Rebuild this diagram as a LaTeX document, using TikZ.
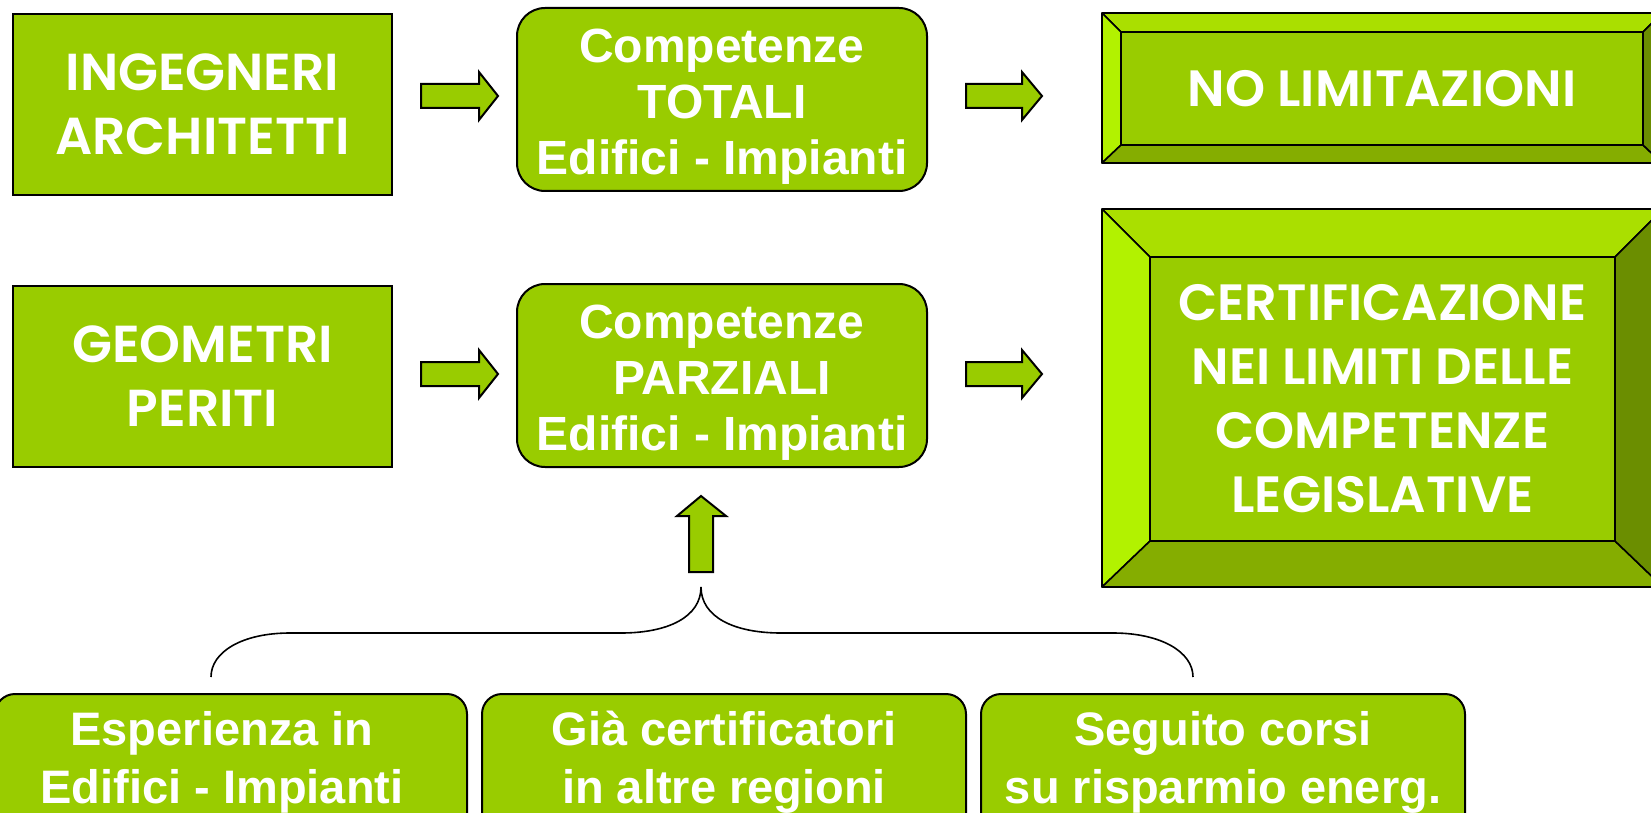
\documentclass[tikz,border=0pt]{standalone}
\usepackage{fontspec}
\setmainfont{Liberation Sans}
\newfontfamily\gothic{Poppins}[BoldFont={Poppins SemiBold}]
\definecolor{gface}{HTML}{99CC00}
\definecolor{gtop}{HTML}{AADF00}
\definecolor{gleft}{HTML}{B2F200}
\definecolor{gbot}{HTML}{85AD00}
\definecolor{gright}{HTML}{6B8E00}
\begin{document}
\begin{tikzpicture}[x=1pt,y=-1pt,
  sqbox/.style={draw=black,line width=2pt,fill=gface,text=white,align=center,inner sep=0pt,
    font=\gothic\bfseries\fontsize{52}{64}\selectfont},
  rbox/.style={draw=black,line width=2pt,fill=gface,rounded corners=28pt},
  rtext/.style={text=white,align=center,inner sep=0pt,font=\bfseries\fontsize{48}{56}\selectfont},
  bbox/.style={draw=black,line width=2pt,fill=gface,rounded corners=20pt},
  btext/.style={text=white,align=center,inner sep=0pt,font=\bfseries\fontsize{47}{58}\selectfont},
  bevface/.style={draw=black,line width=1.6pt,fill=gface,text=white,align=center,inner sep=0pt,
    font=\gothic\bfseries\fontsize{51}{64}\selectfont},
  bev/.style={draw=black,line width=1.6pt,line join=round},
  blockarrow/.style={draw=black,line width=2pt,fill=gface,line join=miter},
  brace/.style={draw=black,line width=1.6pt}]
\path[use as bounding box] (0,0) rectangle (1651,813);
\clip (0,0) rectangle (1651,813);
\fill[white] (0,0) rectangle (1651,813);

% left boxes
\node[sqbox,minimum width=379pt,minimum height=181pt] (ing) at (202.5,104.5) {INGEGNERI\\ARCHITETTI};
\node[sqbox,minimum width=379pt,minimum height=181pt] (geo) at (202.5,376.5) {GEOMETRI\\PERITI};

% competenze boxes
\node[rbox,minimum width=410pt,minimum height=183pt] (tot) at (722,99.5) {};
\node[rtext] (tottxt) at (722,107) {Competenze\\TOTALI\\Edifici - Impianti};
\node[rbox,minimum width=410pt,minimum height=183pt] (par) at (722,375.5) {};
\node[rtext] (partxt) at (722,383) {Competenze\\PARZIALI\\Edifici - Impianti};

% bevel box 1
\fill[gtop,bev] (1102,13) -- (1662,13) -- (1643,32) -- (1121,32) -- cycle;
\fill[gleft,bev] (1102,13) -- (1121,32) -- (1121,145) -- (1102,163) -- cycle;
\fill[gbot,bev] (1102,163) -- (1121,145) -- (1643,145) -- (1662,163) -- cycle;
\fill[gright,bev] (1662,13) -- (1643,32) -- (1643,145) -- (1662,163) -- cycle;
\node[bevface,minimum width=522pt,minimum height=113pt] (nolim) at (1382,88.5) {NO LIMITAZIONI};

% bevel box 2
\fill[gtop,bev] (1102,209) -- (1663,209) -- (1615,257) -- (1150,257) -- cycle;
\fill[gleft,bev] (1102,209) -- (1150,257) -- (1150,541) -- (1102,587) -- cycle;
\fill[gbot,bev] (1102,587) -- (1150,541) -- (1615,541) -- (1663,587) -- cycle;
\fill[gright,bev] (1663,209) -- (1615,257) -- (1615,541) -- (1663,587) -- cycle;
\node[bevface,minimum width=465pt,minimum height=284pt] (cert) at (1382.5,399) {CERTIFICAZIONE\\NEI LIMITI DELLE\\COMPETENZE\\LEGISLATIVE};

% block arrows
\draw[blockarrow] (421,84) -- (479,84) -- (479,72) -- (498,96) -- (479,120) -- (479,108) -- (421,108) -- cycle;
\draw[blockarrow] (966,84) -- (1022,84) -- (1022,72) -- (1042,96) -- (1022,120) -- (1022,108) -- (966,108) -- cycle;
\draw[blockarrow] (421,362) -- (479,362) -- (479,350) -- (498,374) -- (479,398) -- (479,386) -- (421,386) -- cycle;
\draw[blockarrow] (966,362) -- (1022,362) -- (1022,350) -- (1042,374) -- (1022,398) -- (1022,386) -- (966,386) -- cycle;
\draw[blockarrow] (689,572) -- (713,572) -- (713,516) -- (726,516) -- (701,496) -- (677,516) -- (689,516) -- cycle;

% brace
\coordinate (tip) at (701,587);
\coordinate (bl) at (211,677);
\coordinate (br) at (1193,677);
\draw[brace] (bl) .. controls (211,652) and (242,633) .. (290,633) -- (621,633)
  .. controls (668,633) and (701,617) .. (tip)
  .. controls (701,617) and (734,633) .. (781,633) -- (1113,633)
  .. controls (1161,633) and (1193,652) .. (br);

% bottom boxes
\draw[bbox] (-5,694) rectangle (467,840);
\draw[bbox] (482,694) rectangle (966,840);
\draw[bbox] (981,694) rectangle (1465,840);
\node[btext] (esp) at (222,762) {Esperienza in\\Edifici - Impianti};
\node[btext] (gia) at (724,762) {Già certificatori\\in altre regioni};
\node[btext] (seg) at (1223,762) {Seguito corsi\\su risparmio energ.};
\end{tikzpicture}
\end{document}
